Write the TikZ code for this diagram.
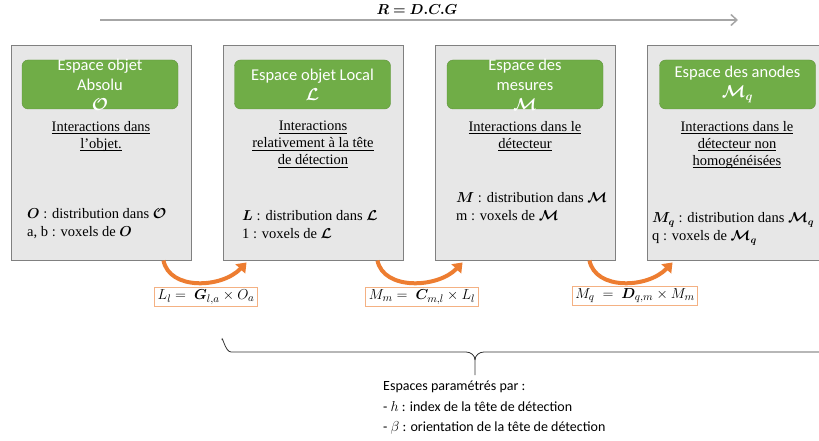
\documentclass[tikz,border=0pt]{standalone}
\usepackage{fontspec}
\setmainfont{Liberation Serif}
\newfontfamily\calibri{Carlito}
\usepackage{amsmath,bm}
\usetikzlibrary{arrows.meta}
\definecolor{fond}{RGB}{231,231,231}
\definecolor{bord}{RGB}{128,128,128}
\definecolor{vert}{RGB}{112,173,71}
\definecolor{orangef}{RGB}{237,125,49}
\definecolor{orangec}{RGB}{244,177,131}
\definecolor{grisfl}{RGB}{166,166,166}
\newcommand{\souligne}[1]{\leavevmode\setbox0\hbox{#1}\rlap{\rule[-2.4pt]{\wd0}{0.7pt}}\box0}
\begin{document}
\begin{tikzpicture}[x=1pt,y=-1pt,every node/.style={font=\rmfamily\fontsize{14.5}{17}\selectfont,align=center},espace/.style={draw=bord,fill=fond,line width=0.9pt,minimum width=180pt,minimum height=215pt,inner sep=0pt},entete/.style={fill=vert,draw=vert!85!black,rounded corners=6pt,minimum width=156pt,minimum height=49pt,inner sep=0pt},entetetexte/.style={text=white,inner sep=0pt,font=\calibri\fontsize{16.5}{20}\selectfont},interaction/.style={anchor=north,inner sep=0pt,font=\rmfamily\fontsize{14.5}{17}\selectfont},legende/.style={anchor=west,align=left,inner sep=0pt,font=\rmfamily\fontsize{14.5}{18}\selectfont},formule/.style={draw=orangec,fill=white,line width=1pt,inner xsep=3pt,inner ysep=2pt,font=\fontsize{15.5}{17}\selectfont},arc/.style={draw=orangef,line width=4pt,-{Triangle[length=9pt,width=13pt]}},axe/.style={draw=grisfl,line width=1.5pt,-{Straight Barb[length=6pt,width=11pt]}}]
\clip (0,0) rectangle (819,441);
% composition R
\node (r) at (417,10) {\fontsize{15}{17}\selectfont$\bm{R = D.C.G}$};
\coordinate (gauche) at (100,20);
\coordinate (droite) at (738,20);
\draw[axe] (gauche) -- (droite);
% les quatre espaces
\node[espace] (o) at (101,152.5) {};
\node[espace] (l) at (313,152.5) {};
\node[espace] (m) at (525,152.5) {};
\node[espace] (mq) at (737,152.5) {};
\node[entete] (eo) at (100,84.5) {};
\node[entete] (el) at (312.5,84.5) {};
\node[entete] (em) at (525,84.5) {};
\node[entete] (emq) at (737.5,84.5) {};
\node[entetetexte] (to) at (eo) {Espace objet\\Absolu\\$\bm{\mathcal{O}}$};
\node[entetetexte] (tl) at (el) {Espace objet Local\\$\bm{\mathcal{L}}$};
\node[entetetexte] (tm) at (em) {Espace des\\mesures\\$\bm{\mathcal{M}}$};
\node[entetetexte] (tmq) at (emq) {Espace des anodes\\$\bm{\mathcal{M}_q}$};
\node[interaction] (io) at (101,121) {\souligne{Interactions dans}\\\souligne{l’objet.}};
\node[interaction] (il) at (313,121) {\souligne{Interactions}\\\souligne{relativement à la tête}\\\souligne{de détection}};
\node[interaction] (im) at (525,121) {\souligne{Interactions dans le}\\\souligne{détecteur}};
\node[interaction] (imq) at (737,121) {\souligne{Interactions dans le}\\\souligne{détecteur non}\\\souligne{homogénéisées}};
\node[legende] (do) at (27,224) {$\bm{O}$ : distribution dans $\bm{\mathcal{O}}$\\a, b : voxels de $\bm{O}$};
\node[legende] (dl) at (242,225) {$\bm{L}$ : distribution dans $\bm{\mathcal{L}}$\\1 : voxels de $\bm{\mathcal{L}}$};
\node[legende] (dm) at (456,207) {$\bm{M}$ : distribution dans $\bm{\mathcal{M}}$\\m : voxels de $\bm{\mathcal{M}}$};
\node[legende] (dmq) at (652,229) {$\bm{M_q}$ : distribution dans $\bm{\mathcal{M}_q}$\\q : voxels de $\bm{\mathcal{M}_q}$};
% passages d'un espace au suivant
\draw[arc] ([xshift=-28pt]o.south east) .. controls +(6,30) and +(-25,26) .. ([xshift=24pt,yshift=-2pt]l.south west);
\draw[arc] ([xshift=-26pt]l.south east) .. controls +(6,30) and +(-25,26) .. ([xshift=28pt,yshift=-2pt]m.south west);
\draw[arc] ([xshift=-26pt]m.south east) .. controls +(6,30) and +(-25,26) .. ([xshift=26pt,yshift=-2pt]mq.south west);
\node[formule] (fa) at (206,297) {$L_l =\ \bm{G}_{l,a}\times O_a$};
\node[formule] (fb) at (422,297) {$M_m =\ \bm{C}_{m,l}\times L_l$};
\node[formule] (fc) at (635,296) {$M_q\ =\ \bm{D}_{q,m}\times M_m$};
% accolade
\draw[black!80,line width=0.8pt] (222,340) to[out=90,in=180] (231,352) -- (466,352) to[out=0,in=90] (475,360) -- (475,375);
\draw[black!80,line width=0.8pt] (475,360) to[out=90,in=180] (484,352) -- (830,352);
\node[anchor=north west,align=left,inner sep=0pt,font=\calibri\fontsize{14}{20.5}\selectfont] (param) at (383,381) {Espaces paramétrés par :\\- $h$ : index de la tête de détection\\- $\beta$ : orientation de la tête de détection};
\end{tikzpicture}
\end{document}
